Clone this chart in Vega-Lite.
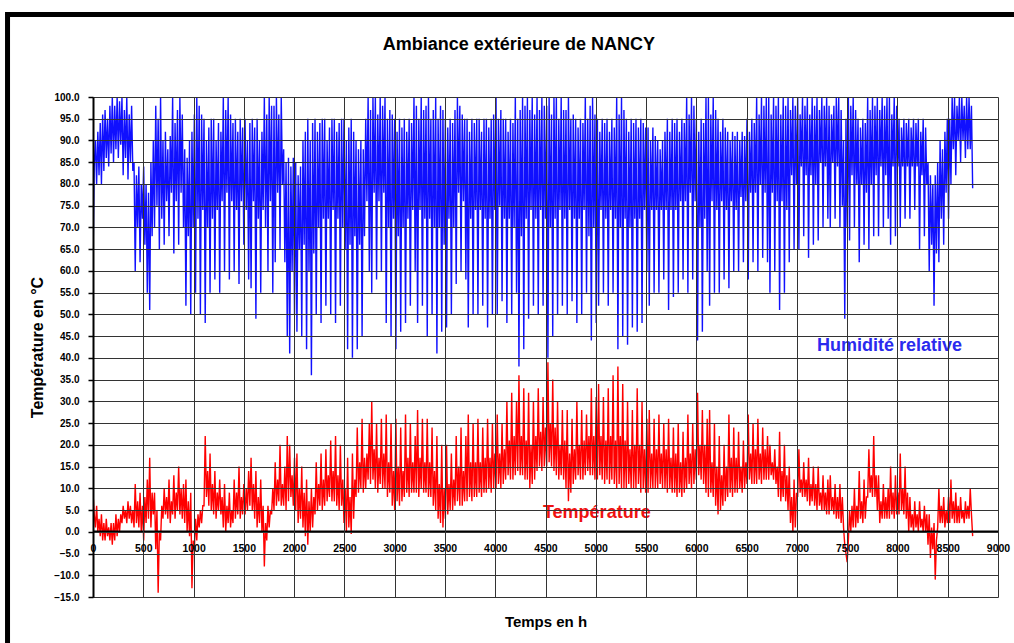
{
"$schema":"https://vega.github.io/schema/vega-lite/v6.json",
"width":905,"height":500,
"autosize":{"type":"none"},
"padding":{"left":93,"top":97,"right":16,"bottom":46},
"background":"white",
"config":{"view":{"stroke":null},"font":"Liberation Sans","axis":{"labelOverlap":false}},
"data":{"values":[
{"t":0,"h":62,"T":9},{"t":12,"h":84,"T":4},{"t":24,"h":90,"T":1},{"t":36,"h":80,"T":6},{"t":48,"h":92,"T":0},{"t":60,"h":82,"T":3},{"t":72,"h":94,"T":-1},{"t":84,"h":80,"T":4},
{"t":96,"h":96,"T":-2},{"t":108,"h":83,"T":2},{"t":120,"h":97,"T":-2},{"t":132,"h":86,"T":3},{"t":144,"h":95,"T":-1},{"t":156,"h":84,"T":1},{"t":168,"h":98,"T":-2},{"t":180,"h":87,"T":2},
{"t":192,"h":100,"T":-3},{"t":204,"h":85,"T":2},{"t":216,"h":98,"T":-2},{"t":228,"h":88,"T":4},{"t":240,"h":100,"T":-1},{"t":252,"h":86,"T":3},{"t":264,"h":99,"T":0},{"t":276,"h":89,"T":4},
{"t":288,"h":100,"T":2},{"t":300,"h":82,"T":6},{"t":312,"h":97,"T":3},{"t":324,"h":86,"T":5},{"t":336,"h":100,"T":2},{"t":348,"h":81,"T":7},{"t":360,"h":96,"T":3},{"t":372,"h":85,"T":6},{"t":384,"h":98,"T":2},{"t":396,"h":83,"T":5},
{"t":408,"h":85,"T":1},{"t":420,"h":60,"T":11},{"t":432,"h":82,"T":2},{"t":444,"h":70,"T":7},{"t":456,"h":84,"T":1},{"t":468,"h":62,"T":9},{"t":480,"h":80,"T":0},{"t":492,"h":72,"T":6},
{"t":504,"h":84,"T":-2},{"t":516,"h":66,"T":8},{"t":528,"h":80,"T":2},{"t":540,"h":55,"T":12},{"t":552,"h":78,"T":3},{"t":564,"h":51,"T":17},{"t":576,"h":85,"T":1},{"t":588,"h":68,"T":9},
{"t":600,"h":90,"T":4},{"t":612,"h":70,"T":9},{"t":624,"h":98,"T":-4},{"t":636,"h":75,"T":5},{"t":648,"h":95,"T":-14},{"t":660,"h":65,"T":0},{"t":672,"h":100,"T":-2},{"t":684,"h":72,"T":6},
{"t":696,"h":90,"T":3},{"t":708,"h":66,"T":10},{"t":720,"h":92,"T":4},{"t":732,"h":76,"T":8},{"t":744,"h":88,"T":3},{"t":756,"h":68,"T":12},{"t":768,"h":91,"T":2},{"t":780,"h":78,"T":7},
{"t":792,"h":100,"T":4},{"t":804,"h":64,"T":13},{"t":816,"h":94,"T":3},{"t":828,"h":76,"T":9},{"t":840,"h":97,"T":5},{"t":852,"h":66,"T":15},{"t":864,"h":100,"T":4},{"t":876,"h":78,"T":10},{"t":888,"h":96,"T":3},{"t":900,"h":70,"T":11},
{"t":912,"h":88,"T":2},{"t":924,"h":52,"T":12},{"t":936,"h":86,"T":0},{"t":948,"h":68,"T":7},{"t":960,"h":90,"T":-1},{"t":972,"h":50,"T":9},{"t":984,"h":92,"T":-13},{"t":996,"h":70,"T":-2},
{"t":1008,"h":96,"T":-4},{"t":1020,"h":55,"T":3},{"t":1032,"h":100,"T":-2},{"t":1044,"h":72,"T":4},{"t":1056,"h":98,"T":1},{"t":1068,"h":50,"T":5},{"t":1080,"h":96,"T":2},{"t":1092,"h":74,"T":6},
{"t":1104,"h":95,"T":6},{"t":1116,"h":48,"T":22},{"t":1128,"h":90,"T":8},{"t":1140,"h":70,"T":14},{"t":1152,"h":93,"T":6},{"t":1164,"h":55,"T":18},{"t":1176,"h":95,"T":5},{"t":1188,"h":72,"T":11},
{"t":1200,"h":95,"T":4},{"t":1212,"h":58,"T":14},{"t":1224,"h":90,"T":3},{"t":1236,"h":74,"T":9},{"t":1248,"h":94,"T":5},{"t":1260,"h":55,"T":12},{"t":1272,"h":92,"T":4},{"t":1284,"h":76,"T":8},
{"t":1296,"h":100,"T":1},{"t":1308,"h":60,"T":11},{"t":1320,"h":97,"T":0},{"t":1332,"h":78,"T":6},{"t":1344,"h":100,"T":2},{"t":1356,"h":58,"T":9},{"t":1368,"h":96,"T":1},{"t":1380,"h":76,"T":5},
{"t":1392,"h":94,"T":2},{"t":1404,"h":60,"T":12},{"t":1416,"h":95,"T":3},{"t":1428,"h":74,"T":9},{"t":1440,"h":92,"T":4},{"t":1452,"h":57,"T":15},{"t":1464,"h":95,"T":3},{"t":1476,"h":76,"T":8},{"t":1488,"h":93,"T":4},{"t":1500,"h":66,"T":11},
{"t":1512,"h":95,"T":4},{"t":1524,"h":74,"T":10},{"t":1536,"h":90,"T":5},{"t":1548,"h":58,"T":14},{"t":1560,"h":94,"T":6},{"t":1572,"h":56,"T":17},{"t":1584,"h":95,"T":5},{"t":1596,"h":76,"T":11},
{"t":1608,"h":93,"T":3},{"t":1620,"h":49,"T":14},{"t":1632,"h":95,"T":1},{"t":1644,"h":72,"T":8},{"t":1656,"h":90,"T":2},{"t":1668,"h":55,"T":12},{"t":1680,"h":92,"T":0},{"t":1692,"h":74,"T":6},
{"t":1704,"h":100,"T":-8},{"t":1716,"h":70,"T":2},{"t":1728,"h":96,"T":-2},{"t":1740,"h":60,"T":6},{"t":1752,"h":100,"T":1},{"t":1764,"h":76,"T":5},{"t":1776,"h":98,"T":4},{"t":1788,"h":55,"T":10},
{"t":1800,"h":98,"T":5},{"t":1812,"h":62,"T":16},{"t":1824,"h":100,"T":6},{"t":1836,"h":78,"T":12},{"t":1848,"h":96,"T":7},{"t":1860,"h":65,"T":20},{"t":1872,"h":100,"T":6},{"t":1884,"h":80,"T":11},
{"t":1896,"h":88,"T":6},{"t":1908,"h":62,"T":15},{"t":1920,"h":85,"T":5},{"t":1932,"h":45,"T":22},{"t":1944,"h":86,"T":7},{"t":1956,"h":41,"T":20},{"t":1968,"h":84,"T":8},{"t":1980,"h":60,"T":13},{"t":1992,"h":86,"T":6},{"t":2004,"h":50,"T":17},
{"t":2016,"h":85,"T":5},{"t":2028,"h":46,"T":18},{"t":2040,"h":82,"T":2},{"t":2052,"h":65,"T":10},{"t":2064,"h":84,"T":3},{"t":2076,"h":45,"T":15},{"t":2088,"h":90,"T":1},{"t":2100,"h":66,"T":9},
{"t":2112,"h":92,"T":-1},{"t":2124,"h":42,"T":12},{"t":2136,"h":95,"T":-3},{"t":2148,"h":60,"T":7},{"t":2160,"h":90,"T":0},{"t":2172,"h":36,"T":10},{"t":2184,"h":94,"T":1},{"t":2196,"h":64,"T":8},
{"t":2208,"h":95,"T":4},{"t":2220,"h":50,"T":16},{"t":2232,"h":92,"T":5},{"t":2244,"h":70,"T":11},{"t":2256,"h":94,"T":6},{"t":2268,"h":48,"T":18},{"t":2280,"h":95,"T":5},{"t":2292,"h":72,"T":12},
{"t":2304,"h":95,"T":6},{"t":2316,"h":52,"T":19},{"t":2328,"h":90,"T":7},{"t":2340,"h":72,"T":13},{"t":2352,"h":93,"T":8},{"t":2364,"h":50,"T":21},{"t":2376,"h":95,"T":7},{"t":2388,"h":74,"T":14},
{"t":2400,"h":95,"T":7},{"t":2412,"h":48,"T":22},{"t":2424,"h":92,"T":6},{"t":2436,"h":72,"T":13},{"t":2448,"h":94,"T":5},{"t":2460,"h":52,"T":20},{"t":2472,"h":95,"T":6},{"t":2484,"h":70,"T":12},
{"t":2496,"h":95,"T":2},{"t":2508,"h":65,"T":10},{"t":2520,"h":90,"T":0},{"t":2532,"h":42,"T":17},{"t":2544,"h":93,"T":1},{"t":2556,"h":66,"T":8},{"t":2568,"h":95,"T":-0.5},{"t":2580,"h":40,"T":18},{"t":2592,"h":92,"T":3},{"t":2604,"h":68,"T":12},
{"t":2616,"h":90,"T":8},{"t":2628,"h":42,"T":24},{"t":2640,"h":88,"T":9},{"t":2652,"h":66,"T":16},{"t":2664,"h":90,"T":10},{"t":2676,"h":45,"T":26},{"t":2688,"h":88,"T":9},{"t":2700,"h":68,"T":17},
{"t":2712,"h":95,"T":10},{"t":2724,"h":76,"T":18},{"t":2736,"h":100,"T":12},{"t":2748,"h":60,"T":25},{"t":2760,"h":97,"T":11},{"t":2772,"h":55,"T":30},{"t":2784,"h":100,"T":12},{"t":2796,"h":78,"T":19},
{"t":2808,"h":100,"T":10},{"t":2820,"h":58,"T":25},{"t":2832,"h":96,"T":9},{"t":2844,"h":76,"T":17},{"t":2856,"h":100,"T":11},{"t":2868,"h":60,"T":26},{"t":2880,"h":98,"T":10},{"t":2892,"h":78,"T":18},
{"t":2904,"h":100,"T":10},{"t":2916,"h":48,"T":27},{"t":2928,"h":95,"T":8},{"t":2940,"h":70,"T":16},{"t":2952,"h":97,"T":9},{"t":2964,"h":45,"T":25},{"t":2976,"h":96,"T":6},{"t":2988,"h":72,"T":14},
{"t":3000,"h":95,"T":5},{"t":3012,"h":42,"T":26},{"t":3024,"h":92,"T":7},{"t":3036,"h":68,"T":15},{"t":3048,"h":95,"T":6},{"t":3060,"h":46,"T":24},{"t":3072,"h":93,"T":7},{"t":3084,"h":70,"T":14},
{"t":3096,"h":95,"T":8},{"t":3108,"h":48,"T":27},{"t":3120,"h":92,"T":9},{"t":3132,"h":72,"T":17},{"t":3144,"h":95,"T":8},{"t":3156,"h":52,"T":25},{"t":3168,"h":94,"T":9},{"t":3180,"h":74,"T":16},{"t":3192,"h":100,"T":9},{"t":3204,"h":60,"T":22},
{"t":3216,"h":98,"T":9},{"t":3228,"h":48,"T":28},{"t":3240,"h":95,"T":8},{"t":3252,"h":74,"T":17},{"t":3264,"h":100,"T":10},{"t":3276,"h":52,"T":26},{"t":3288,"h":97,"T":9},{"t":3300,"h":72,"T":16},
{"t":3312,"h":98,"T":9},{"t":3324,"h":45,"T":26},{"t":3336,"h":100,"T":8},{"t":3348,"h":72,"T":16},{"t":3360,"h":95,"T":8},{"t":3372,"h":50,"T":24},{"t":3384,"h":97,"T":6},{"t":3396,"h":70,"T":14},
{"t":3408,"h":100,"T":5},{"t":3420,"h":41,"T":22},{"t":3432,"h":95,"T":3},{"t":3444,"h":70,"T":11},{"t":3456,"h":98,"T":2},{"t":3468,"h":46,"T":20},{"t":3480,"h":97,"T":1},{"t":3492,"h":66,"T":10},
{"t":3504,"h":95,"T":3},{"t":3516,"h":47,"T":20},{"t":3528,"h":93,"T":4},{"t":3540,"h":72,"T":11},{"t":3552,"h":95,"T":5},{"t":3564,"h":50,"T":18},{"t":3576,"h":94,"T":5},{"t":3588,"h":70,"T":12},
{"t":3600,"h":97,"T":6},{"t":3612,"h":57,"T":22},{"t":3624,"h":100,"T":7},{"t":3636,"h":78,"T":15},{"t":3648,"h":98,"T":6},{"t":3660,"h":60,"T":24},{"t":3672,"h":96,"T":6},{"t":3684,"h":76,"T":14},{"t":3696,"h":95,"T":7},{"t":3708,"h":58,"T":22},
{"t":3720,"h":95,"T":7},{"t":3732,"h":47,"T":27},{"t":3744,"h":92,"T":8},{"t":3756,"h":72,"T":16},{"t":3768,"h":95,"T":7},{"t":3780,"h":50,"T":25},{"t":3792,"h":94,"T":8},{"t":3804,"h":74,"T":16},
{"t":3816,"h":95,"T":8},{"t":3828,"h":50,"T":26},{"t":3840,"h":95,"T":9},{"t":3852,"h":74,"T":16},{"t":3864,"h":92,"T":8},{"t":3876,"h":52,"T":24},{"t":3888,"h":95,"T":9},{"t":3900,"h":72,"T":17},
{"t":3912,"h":95,"T":9},{"t":3924,"h":47,"T":26},{"t":3936,"h":93,"T":10},{"t":3948,"h":72,"T":17},{"t":3960,"h":95,"T":9},{"t":3972,"h":50,"T":25},{"t":3984,"h":96,"T":10},{"t":3996,"h":74,"T":18},
{"t":4008,"h":100,"T":10},{"t":4020,"h":50,"T":27},{"t":4032,"h":95,"T":11},{"t":4044,"h":75,"T":18},{"t":4056,"h":97,"T":10},{"t":4068,"h":53,"T":25},{"t":4080,"h":95,"T":11},{"t":4092,"h":72,"T":19},
{"t":4104,"h":95,"T":12},{"t":4116,"h":48,"T":30},{"t":4128,"h":92,"T":13},{"t":4140,"h":72,"T":21},{"t":4152,"h":95,"T":12},{"t":4164,"h":50,"T":32},{"t":4176,"h":94,"T":12},{"t":4188,"h":70,"T":22},
{"t":4200,"h":100,"T":13},{"t":4212,"h":55,"T":30},{"t":4224,"h":95,"T":14},{"t":4236,"h":38,"T":36},{"t":4248,"h":97,"T":13},{"t":4260,"h":68,"T":22},{"t":4272,"h":100,"T":13},{"t":4284,"h":42,"T":33},{"t":4296,"h":98,"T":12},{"t":4308,"h":72,"T":21},
{"t":4320,"h":100,"T":12},{"t":4332,"h":49,"T":32},{"t":4344,"h":97,"T":10},{"t":4356,"h":74,"T":20},{"t":4368,"h":100,"T":11},{"t":4380,"h":52,"T":30},{"t":4392,"h":96,"T":12},{"t":4404,"h":72,"T":22},
{"t":4416,"h":100,"T":14},{"t":4428,"h":50,"T":33},{"t":4440,"h":97,"T":15},{"t":4452,"h":74,"T":23},{"t":4464,"h":100,"T":14},{"t":4476,"h":52,"T":31},{"t":4488,"h":98,"T":15},{"t":4500,"h":72,"T":24},
{"t":4512,"h":98,"T":15},{"t":4524,"h":40,"T":39},{"t":4536,"h":100,"T":16},{"t":4548,"h":70,"T":25},{"t":4560,"h":96,"T":15},{"t":4572,"h":45,"T":35},{"t":4584,"h":100,"T":14},{"t":4596,"h":72,"T":24},
{"t":4608,"h":100,"T":13},{"t":4620,"h":50,"T":30},{"t":4632,"h":95,"T":12},{"t":4644,"h":74,"T":20},{"t":4656,"h":100,"T":13},{"t":4668,"h":52,"T":28},{"t":4680,"h":97,"T":12},{"t":4692,"h":72,"T":21},
{"t":4704,"h":97,"T":10},{"t":4716,"h":50,"T":28},{"t":4728,"h":100,"T":7},{"t":4740,"h":74,"T":18},{"t":4752,"h":95,"T":9},{"t":4764,"h":53,"T":26},{"t":4776,"h":96,"T":11},{"t":4788,"h":72,"T":19},
{"t":4800,"h":95,"T":12},{"t":4812,"h":48,"T":30},{"t":4824,"h":93,"T":13},{"t":4836,"h":72,"T":20},{"t":4848,"h":95,"T":12},{"t":4860,"h":50,"T":28},{"t":4872,"h":94,"T":12},{"t":4884,"h":74,"T":21},{"t":4896,"h":100,"T":13},{"t":4908,"h":55,"T":27},
{"t":4920,"h":95,"T":14},{"t":4932,"h":68,"T":22},{"t":4944,"h":98,"T":13},{"t":4956,"h":44,"T":33},{"t":4968,"h":100,"T":13},{"t":4980,"h":70,"T":22},{"t":4992,"h":96,"T":12},{"t":5004,"h":48,"T":31},
{"t":5016,"h":95,"T":12},{"t":5028,"h":52,"T":34},{"t":5040,"h":92,"T":13},{"t":5052,"h":74,"T":22},{"t":5064,"h":95,"T":12},{"t":5076,"h":55,"T":31},{"t":5088,"h":94,"T":11},{"t":5100,"h":72,"T":21},
{"t":5112,"h":95,"T":12},{"t":5124,"h":52,"T":33},{"t":5136,"h":92,"T":11},{"t":5148,"h":74,"T":22},{"t":5160,"h":95,"T":12},{"t":5172,"h":55,"T":36},{"t":5184,"h":93,"T":11},{"t":5196,"h":72,"T":21},
{"t":5208,"h":100,"T":10},{"t":5220,"h":42,"T":38},{"t":5232,"h":96,"T":11},{"t":5244,"h":70,"T":22},{"t":5256,"h":100,"T":10},{"t":5268,"h":45,"T":34},{"t":5280,"h":97,"T":10},{"t":5292,"h":72,"T":21},
{"t":5304,"h":95,"T":10},{"t":5316,"h":43,"T":30},{"t":5328,"h":92,"T":11},{"t":5340,"h":70,"T":19},{"t":5352,"h":95,"T":10},{"t":5364,"h":47,"T":28},{"t":5376,"h":94,"T":10},{"t":5388,"h":72,"T":20},
{"t":5400,"h":95,"T":10},{"t":5412,"h":46,"T":33},{"t":5424,"h":93,"T":11},{"t":5436,"h":72,"T":20},{"t":5448,"h":95,"T":9},{"t":5460,"h":48,"T":30},{"t":5472,"h":94,"T":10},{"t":5484,"h":74,"T":19},{"t":5496,"h":93,"T":9},{"t":5508,"h":60,"T":26},
{"t":5520,"h":93,"T":9},{"t":5532,"h":52,"T":28},{"t":5544,"h":90,"T":10},{"t":5556,"h":74,"T":18},{"t":5568,"h":93,"T":10},{"t":5580,"h":55,"T":26},{"t":5592,"h":91,"T":10},{"t":5604,"h":74,"T":19},
{"t":5616,"h":90,"T":10},{"t":5628,"h":55,"T":27},{"t":5640,"h":88,"T":11},{"t":5652,"h":74,"T":18},{"t":5664,"h":90,"T":10},{"t":5676,"h":58,"T":25},{"t":5688,"h":92,"T":10},{"t":5700,"h":74,"T":19},
{"t":5712,"h":95,"T":9},{"t":5724,"h":51,"T":26},{"t":5736,"h":92,"T":10},{"t":5748,"h":74,"T":17},{"t":5760,"h":95,"T":9},{"t":5772,"h":54,"T":24},{"t":5784,"h":94,"T":9},{"t":5796,"h":74,"T":18},
{"t":5808,"h":95,"T":8},{"t":5820,"h":55,"T":25},{"t":5832,"h":92,"T":9},{"t":5844,"h":76,"T":16},{"t":5856,"h":95,"T":8},{"t":5868,"h":58,"T":23},{"t":5880,"h":94,"T":9},{"t":5892,"h":76,"T":17},
{"t":5904,"h":100,"T":10},{"t":5916,"h":55,"T":27},{"t":5928,"h":96,"T":11},{"t":5940,"h":78,"T":18},{"t":5952,"h":100,"T":10},{"t":5964,"h":58,"T":25},{"t":5976,"h":98,"T":11},{"t":5988,"h":76,"T":19},
{"t":6000,"h":95,"T":12},{"t":6012,"h":44,"T":32},{"t":6024,"h":92,"T":13},{"t":6036,"h":70,"T":20},{"t":6048,"h":95,"T":12},{"t":6060,"h":46,"T":28},{"t":6072,"h":94,"T":11},{"t":6084,"h":72,"T":20},{"t":6096,"h":100,"T":9},{"t":6108,"h":60,"T":26},
{"t":6120,"h":100,"T":8},{"t":6132,"h":52,"T":28},{"t":6144,"h":96,"T":9},{"t":6156,"h":76,"T":16},{"t":6168,"h":100,"T":8},{"t":6180,"h":55,"T":25},{"t":6192,"h":97,"T":6},{"t":6204,"h":74,"T":15},
{"t":6216,"h":95,"T":4},{"t":6228,"h":55,"T":22},{"t":6240,"h":92,"T":5},{"t":6252,"h":76,"T":13},{"t":6264,"h":95,"T":6},{"t":6276,"h":58,"T":20},{"t":6288,"h":93,"T":7},{"t":6300,"h":74,"T":15},
{"t":6312,"h":92,"T":8},{"t":6324,"h":56,"T":27},{"t":6336,"h":90,"T":9},{"t":6348,"h":76,"T":17},{"t":6360,"h":92,"T":8},{"t":6372,"h":60,"T":24},{"t":6384,"h":91,"T":9},{"t":6396,"h":74,"T":17},
{"t":6408,"h":92,"T":9},{"t":6420,"h":60,"T":23},{"t":6432,"h":90,"T":10},{"t":6444,"h":77,"T":15},{"t":6456,"h":92,"T":9},{"t":6468,"h":62,"T":21},{"t":6480,"h":91,"T":10},{"t":6492,"h":76,"T":16},
{"t":6504,"h":95,"T":11},{"t":6516,"h":58,"T":27},{"t":6528,"h":92,"T":12},{"t":6540,"h":78,"T":18},{"t":6552,"h":95,"T":11},{"t":6564,"h":62,"T":25},{"t":6576,"h":94,"T":11},{"t":6588,"h":78,"T":19},
{"t":6600,"h":100,"T":11},{"t":6612,"h":60,"T":26},{"t":6624,"h":96,"T":12},{"t":6636,"h":80,"T":18},{"t":6648,"h":100,"T":11},{"t":6660,"h":63,"T":24},{"t":6672,"h":98,"T":12},{"t":6684,"h":78,"T":19},{"t":6696,"h":100,"T":12},{"t":6708,"h":62,"T":22},
{"t":6720,"h":100,"T":12},{"t":6732,"h":55,"T":20},{"t":6744,"h":96,"T":13},{"t":6756,"h":78,"T":16},{"t":6768,"h":100,"T":12},{"t":6780,"h":60,"T":19},{"t":6792,"h":98,"T":11},{"t":6804,"h":76,"T":15},
{"t":6816,"h":100,"T":8},{"t":6828,"h":51,"T":23},{"t":6840,"h":96,"T":7},{"t":6852,"h":76,"T":14},{"t":6864,"h":100,"T":8},{"t":6876,"h":55,"T":20},{"t":6888,"h":98,"T":7},{"t":6900,"h":74,"T":13},
{"t":6912,"h":100,"T":5},{"t":6924,"h":62,"T":15},{"t":6936,"h":97,"T":2},{"t":6948,"h":82,"T":8},{"t":6960,"h":100,"T":0},{"t":6972,"h":65,"T":12},{"t":6984,"h":98,"T":1},{"t":6996,"h":80,"T":9},
{"t":7008,"h":100,"T":8},{"t":7020,"h":65,"T":19},{"t":7032,"h":96,"T":9},{"t":7044,"h":84,"T":12},{"t":7056,"h":100,"T":8},{"t":7068,"h":68,"T":16},{"t":7080,"h":98,"T":8},{"t":7092,"h":82,"T":12},
{"t":7104,"h":100,"T":7},{"t":7116,"h":63,"T":17},{"t":7128,"h":96,"T":6},{"t":7140,"h":82,"T":11},{"t":7152,"h":100,"T":7},{"t":7164,"h":66,"T":15},{"t":7176,"h":98,"T":6},{"t":7188,"h":80,"T":11},
{"t":7200,"h":100,"T":5},{"t":7212,"h":67,"T":15},{"t":7224,"h":97,"T":6},{"t":7236,"h":85,"T":9},{"t":7248,"h":100,"T":5},{"t":7260,"h":70,"T":13},{"t":7272,"h":98,"T":5},{"t":7284,"h":84,"T":9},{"t":7296,"h":100,"T":4},{"t":7308,"h":72,"T":12},
{"t":7320,"h":98,"T":4},{"t":7332,"h":70,"T":13},{"t":7344,"h":96,"T":5},{"t":7356,"h":85,"T":8},{"t":7368,"h":98,"T":4},{"t":7380,"h":72,"T":11},{"t":7392,"h":100,"T":3},{"t":7404,"h":84,"T":8},
{"t":7416,"h":100,"T":3},{"t":7428,"h":70,"T":11},{"t":7440,"h":97,"T":2},{"t":7452,"h":75,"T":8},{"t":7464,"h":90,"T":1},{"t":7476,"h":49,"T":-3},{"t":7488,"h":95,"T":-5},{"t":7500,"h":70,"T":-7},
{"t":7512,"h":100,"T":-2},{"t":7524,"h":67,"T":5},{"t":7536,"h":98,"T":0},{"t":7548,"h":82,"T":6},{"t":7560,"h":100,"T":1},{"t":7572,"h":70,"T":10},{"t":7584,"h":97,"T":1},{"t":7596,"h":80,"T":6},
{"t":7608,"h":95,"T":2},{"t":7620,"h":62,"T":14},{"t":7632,"h":93,"T":3},{"t":7644,"h":80,"T":7},{"t":7656,"h":95,"T":2},{"t":7668,"h":66,"T":12},{"t":7680,"h":94,"T":3},{"t":7692,"h":78,"T":8},
{"t":7704,"h":100,"T":8},{"t":7716,"h":65,"T":19},{"t":7728,"h":97,"T":9},{"t":7740,"h":80,"T":13},{"t":7752,"h":100,"T":8},{"t":7764,"h":68,"T":22},{"t":7776,"h":98,"T":8},{"t":7788,"h":82,"T":13},
{"t":7800,"h":100,"T":5},{"t":7812,"h":68,"T":13},{"t":7824,"h":97,"T":2},{"t":7836,"h":84,"T":7},{"t":7848,"h":100,"T":3},{"t":7860,"h":70,"T":11},{"t":7872,"h":98,"T":3},{"t":7884,"h":82,"T":8},{"t":7896,"h":100,"T":3},{"t":7908,"h":72,"T":10},
{"t":7920,"h":100,"T":3},{"t":7932,"h":66,"T":15},{"t":7944,"h":96,"T":4},{"t":7956,"h":84,"T":9},{"t":7968,"h":100,"T":3},{"t":7980,"h":68,"T":13},{"t":7992,"h":98,"T":4},{"t":8004,"h":84,"T":9},
{"t":8016,"h":95,"T":4},{"t":8028,"h":70,"T":18},{"t":8040,"h":93,"T":5},{"t":8052,"h":84,"T":10},{"t":8064,"h":95,"T":4},{"t":8076,"h":72,"T":15},{"t":8088,"h":94,"T":3},{"t":8100,"h":84,"T":9},
{"t":8112,"h":95,"T":0},{"t":8124,"h":72,"T":8},{"t":8136,"h":93,"T":1},{"t":8148,"h":84,"T":4},{"t":8160,"h":95,"T":0},{"t":8172,"h":74,"T":7},{"t":8184,"h":94,"T":1},{"t":8196,"h":84,"T":4},
{"t":8208,"h":95,"T":0},{"t":8220,"h":65,"T":7},{"t":8232,"h":92,"T":1},{"t":8244,"h":82,"T":3},{"t":8256,"h":95,"T":0},{"t":8268,"h":68,"T":6},{"t":8280,"h":93,"T":0},{"t":8292,"h":80,"T":4},
{"t":8304,"h":85,"T":-3},{"t":8316,"h":60,"T":4},{"t":8328,"h":82,"T":-6},{"t":8340,"h":66,"T":1},{"t":8352,"h":80,"T":-4},{"t":8364,"h":52,"T":2},{"t":8376,"h":82,"T":-11},{"t":8388,"h":64,"T":-2},
{"t":8400,"h":85,"T":1},{"t":8412,"h":62,"T":10},{"t":8424,"h":90,"T":2},{"t":8436,"h":72,"T":6},{"t":8448,"h":88,"T":2},{"t":8460,"h":66,"T":8},{"t":8472,"h":92,"T":1},{"t":8484,"h":78,"T":5},{"t":8496,"h":95,"T":2},{"t":8508,"h":72,"T":8},
{"t":8520,"h":95,"T":2},{"t":8532,"h":80,"T":12},{"t":8544,"h":100,"T":3},{"t":8556,"h":88,"T":7},{"t":8568,"h":100,"T":2},{"t":8580,"h":82,"T":9},{"t":8592,"h":98,"T":2},{"t":8604,"h":90,"T":6},
{"t":8616,"h":100,"T":2},{"t":8628,"h":85,"T":8},{"t":8640,"h":100,"T":3},{"t":8652,"h":90,"T":5},{"t":8664,"h":98,"T":2},{"t":8676,"h":86,"T":7},{"t":8688,"h":100,"T":3},{"t":8700,"h":88,"T":6},
{"t":8712,"h":100,"T":3},{"t":8724,"h":88,"T":10},{"t":8736,"h":98,"T":4},{"t":8748,"h":79,"T":-1}
]},
"layer":[
{"mark":{"type":"line","color":"#1010ff","strokeWidth":1.4,"clip":true},
 "encoding":{
  "x":{"field":"t","type":"quantitative","scale":{"domain":[0,9000],"nice":false,"zero":false},
   "axis":{"title":"Temps en h","values":[0,500,1000,1500,2000,2500,3000,3500,4000,4500,5000,5500,6000,6500,7000,7500,8000,8500,9000],"tickCount":30,"format":"d","labelFlush":false,"labelOverlap":false,"labelFont":"Liberation Sans","labelFontSize":10.5,"labelFontWeight":"bold","labelColor":"#000","labelPadding":-54,"domain":false,"ticks":false,"grid":true,"gridColor":"#333","gridWidth":1,"gridOpacity":1,"titleFont":"Liberation Sans","titleFontSize":15,"titleFontWeight":"bold","titleColor":"#000","titlePadding":17,"zindex":1}},
  "y":{"field":"h","type":"quantitative","scale":{"domain":[-15,100],"nice":false,"zero":false},
   "axis":{"title":"Température en °C","values":[-15,-10,-5,0,5,10,15,20,25,30,35,40,45,50,55,60,65,70,75,80,85,90,95,100],"tickCount":30,"format":".1f","labelFont":"Liberation Sans","labelFontSize":10,"labelFontWeight":"bold","labelColor":"#000","labelPadding":9,"labelOverlap":false,"tickColor":"#000","tickSize":5,"tickWidth":1.5,"domainColor":"#000","domainWidth":2,"grid":true,"gridColor":"#333","gridWidth":1,"gridOpacity":1,"titleFont":"Liberation Sans","titleFontSize":16,"titleFontWeight":"bold","titleColor":"#000","titlePadding":8,"zindex":1}}}},
{"mark":{"type":"line","color":"#ff0000","strokeWidth":1.4,"clip":true},
 "encoding":{"x":{"field":"t","type":"quantitative"},"y":{"field":"T","type":"quantitative"}}},
{"data":{"values":[{}]},"mark":{"type":"rule","color":"#000","strokeWidth":2.5},"encoding":{"y":{"datum":0}}},
{"data":{"values":[{}]},"mark":{"type":"text","text":"Humidité relative","color":"#2a2aee","font":"Liberation Sans","fontSize":18,"fontWeight":"bold"},"encoding":{"x":{"datum":7922},"y":{"datum":42.7}}},
{"data":{"values":[{}]},"mark":{"type":"text","text":"Température","color":"#ee1111","font":"Liberation Sans","fontSize":18,"fontWeight":"bold"},"encoding":{"x":{"datum":5010},"y":{"datum":4.3}}},
{"data":{"values":[{}]},"mark":{"type":"text","text":"Ambiance extérieure de NANCY","color":"#000","font":"Liberation Sans","fontSize":18,"fontWeight":"bold"},"encoding":{"x":{"datum":4235},"y":{"datum":112}}},
{"data":{"values":[{}]},"mark":{"type":"rect","fillOpacity":0,"stroke":"#000","strokeWidth":5,"clip":false},"encoding":{"x":{"datum":-850},"x2":{"datum":11000},"y":{"datum":119},"y2":{"datum":-60}}}
]
}
